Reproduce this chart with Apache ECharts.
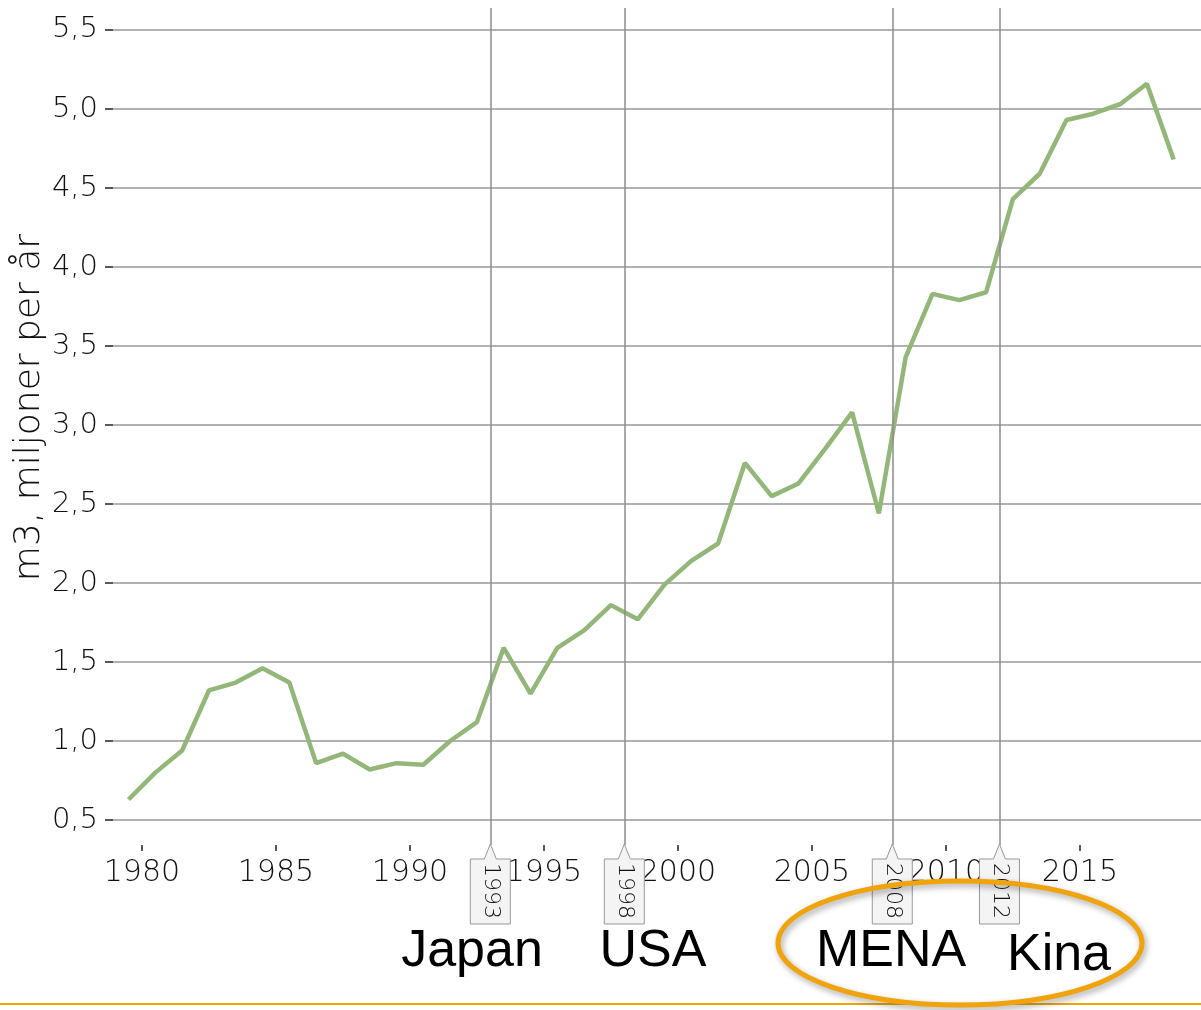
<!DOCTYPE html>
<html>
<head>
<meta charset="utf-8">
<script src="https://cdn.jsdelivr.net/npm/echarts@6/dist/echarts.min.js"></script>
<style>
  html, body { margin: 0; padding: 0; background: #fff; }
  #main { width: 1201px; height: 1010px; }
</style>
</head>
<body>
<div id="main"></div>
<script>
// år (mätpunkt mitt på året) och värden, m3 miljoner per år
var years = [1979, 1980, 1981, 1982, 1983, 1984, 1985, 1986, 1987, 1988,
             1989, 1990, 1991, 1992, 1993, 1994, 1995, 1996, 1997, 1998,
             1999, 2000, 2001, 2002, 2003, 2004, 2005, 2006, 2007, 2008,
             2009, 2010, 2011, 2012, 2013, 2014, 2015, 2016, 2017, 2018];
var volumes = [0.63, 0.80, 0.94, 1.32, 1.37, 1.46, 1.37, 0.86, 0.92, 0.82,
               0.86, 0.85, 1.00, 1.12, 1.59, 1.30, 1.59, 1.70, 1.86, 1.77,
               1.99, 2.14, 2.25, 2.76, 2.55, 2.63, 2.85, 3.08, 2.44, 3.43,
               3.83, 3.79, 3.84, 4.43, 4.59, 4.93, 4.97, 5.03, 5.16, 4.68];

/* axlarnas tickvärden */
var xTicks = [1980, 1985, 1990, 1995, 2000, 2005, 2010, 2015];
var yTicks = [0.5, 1.0, 1.5, 2.0, 2.5, 3.0, 3.5, 4.0, 4.5, 5.0, 5.5];

/* händelser (flaggor) */
var eventYears = [1993, 1998, 2008, 2012];
var eventNames = ['Japan', 'USA', 'MENA', 'Kina'];

var axisFont = 'DejaVu Sans';

var chart = echarts.init(document.getElementById('main'));

var seriesData = years.map(function(y, i){
    return [y + 0.5, volumes[i]];
});

var option = {
    animation: false,
    backgroundColor: '#fff',
    grid: {
        left: 113,
        right: 0,
        top: 8,
        bottom: 165,
        containLabel: false,
        outerBoundsMode: 'none'
    },
    xAxis: {
        type: 'value',
        min: 1978.92,
        max: 2019.52,
        axisLine: { show: false },
        axisTick: {
            show: true,
            customValues: xTicks,
            length: 6,
            lineStyle: { color: '#222', width: 1.5 }
        },
        axisLabel: {
            customValues: xTicks,
            margin: 13,
            color: '#111',
            fontFamily: axisFont,
            fontWeight: 200,
            fontSize: 30,
            formatter: function(v){ return String(v); }
        },
        splitLine: { show: false }
    },
    yAxis: {
        type: 'value',
        min: 0.342,
        max: 5.639,
        name: 'm3, miljoner per år',
        nameLocation: 'middle',
        nameGap: 65,
        nameMoveOverlap: false,
        nameTextStyle: {
            color: '#111',
            fontFamily: axisFont,
            fontWeight: 200,
            fontSize: 36,
            padding: [0, 0, 0, 38]
        },
        axisLine: { show: false },
        axisTick: {
            show: true,
            customValues: yTicks,
            length: 8,
            lineStyle: { color: '#222', width: 1.5 }
        },
        axisLabel: {
            customValues: yTicks,
            margin: 15,
            color: '#111',
            fontFamily: axisFont,
            fontWeight: 200,
            fontSize: 29,
            formatter: function(v){ return v.toFixed(1).replace('.', ','); }
        },
        splitLine: {
            show: true,
            lineStyle: { color: '#999', width: 1.5 }
        }
    },
    series: [
        {
            name: 'Volym',
            type: 'line',
            data: seriesData,
            showSymbol: false,
            symbol: 'none',
            lineStyle: { color: '#93b778', width: 4.5 },
            z: 3,
            markLine: {
                silent: true,
                symbol: ['none', 'none'],
                label: { show: false },
                lineStyle: { color: '#8c8c8c', width: 1.5, type: 'solid' },
                data: eventYears.map(function(y){ return { xAxis: y }; })
            }
        }
    ]
};
chart.setOption(option);

/* flaggor, etiketter och ringen under x-axeln */
var bottomY = chart.convertToPixel({ yAxisIndex: 0 }, 0.342);
var graphics = [];
eventYears.forEach(function(y){
    var px = chart.convertToPixel({ xAxisIndex: 0 }, y);
    var tipY = bottomY - 1;
    graphics.push({
        type: 'polygon',
        shape: {
            points: [
                [px, tipY], [px + 6, tipY + 15], [px + 20, tipY + 15],
                [px + 20, tipY + 80], [px - 20, tipY + 80],
                [px - 20, tipY + 15], [px - 6, tipY + 15]
            ]
        },
        style: { fill: '#f4f4f4', stroke: '#999', lineWidth: 1 },
        z: 10
    });
    graphics.push({
        type: 'text',
        x: px,
        y: tipY + 47,
        rotation: -Math.PI / 2,
        style: {
            text: String(y),
            fill: '#111',
            font: '200 22px "DejaVu Sans"',
            align: 'center',
            verticalAlign: 'middle'
        },
        z: 11
    });
});

var labelPos = [[472, 952], [653, 952], [891, 952], [1059, 956]];
eventNames.forEach(function(name, i){
    graphics.push({
        type: 'text',
        x: labelPos[i][0],
        y: labelPos[i][1],
        style: {
            text: name,
            fill: '#000',
            font: '52px "Liberation Sans", Arial, sans-serif',
            align: 'center',
            verticalAlign: 'middle'
        },
        z: 12
    });
});

graphics.push({
    type: 'ellipse',
    shape: { cx: 960, cy: 943, rx: 182, ry: 62 },
    style: {
        fill: 'none',
        stroke: '#f0a30a',
        lineWidth: 5,
        shadowBlur: 6,
        shadowColor: 'rgba(0,0,0,0.35)',
        shadowOffsetX: 2,
        shadowOffsetY: 3
    },
    z: 13
});

graphics.push({
    type: 'line',
    shape: { x1: 0, y1: 1004, x2: 1201, y2: 1004 },
    style: { stroke: '#f0a800', lineWidth: 2 },
    z: 9
});

chart.setOption({ graphic: graphics });
</script>
</body>
</html>
